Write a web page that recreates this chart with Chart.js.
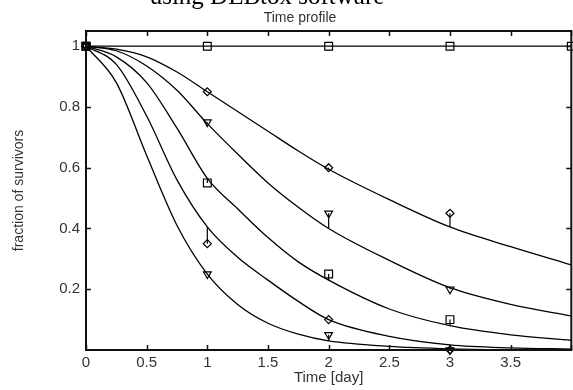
<!DOCTYPE html>
<html>
<head>
<meta charset="utf-8">
<script src="https://cdn.jsdelivr.net/npm/chart.js@4.4.0/dist/chart.umd.min.js"></script>
<style>
  html, body { margin: 0; padding: 0; background: #fff; overflow: hidden; }
  #wrap { position: relative; width: 578px; height: 390px; }
</style>
</head>
<body>
<div id="wrap"><canvas id="myChart"></canvas></div>
<script>
// axis ticks
const dayTicks = [0, 0.5, 1, 1.5, 2, 2.5, 3, 3.5];
const fractionTicks = [0.2, 0.4, 0.6, 0.8, 1];

// model fits
const fitDays = [0, 0.25, 0.5, 0.75, 1, 1.25, 1.5, 1.75, 2, 2.5, 3, 3.5, 4];
const fitControl = [1, 1, 1, 1, 1, 1, 1, 1, 1, 1, 1, 1, 1];
const fitA = [1, 0.99, 0.965, 0.915, 0.85, 0.785, 0.72, 0.655, 0.595, 0.495, 0.405, 0.34, 0.28];
const fitB = [1, 0.985, 0.935, 0.855, 0.745, 0.645, 0.55, 0.47, 0.4, 0.295, 0.205, 0.15, 0.112];
const fitC = [1, 0.965, 0.88, 0.73, 0.565, 0.465, 0.37, 0.29, 0.23, 0.135, 0.08, 0.05, 0.032];
const fitD = [1, 0.94, 0.77, 0.56, 0.405, 0.305, 0.23, 0.16, 0.1, 0.045, 0.017, 0.007, 0.003];
const fitE = [1, 0.88, 0.64, 0.41, 0.25, 0.15, 0.088, 0.052, 0.03, 0.012, 0.004, 0.001, 0];

// observations
const obsDays = [0, 1, 2, 3];
const controlDays = [0, 1, 2, 3, 4];
const obsControl = [1, 1, 1, 1, 1];
const obsA = [1, 0.85, 0.6, 0.45];
const obsB = [1, 0.75, 0.45, 0.2];
const obsC = [1, 0.55, 0.25, 0.1];
const obsD = [1, 0.35, 0.1, 0];
const obsE = [1, 0.25, 0.05, 0];

const toPoints = (xs, ys) => xs.map((x, i) => ({ x: x, y: ys[i] }));

const fits = [fitControl, fitA, fitB, fitC, fitD, fitE];
const observations = [
  { days: controlDays, values: obsControl, fit: fitControl, style: "rect", radius: 5.5, rotation: 0 },
  { days: obsDays, values: obsA, fit: fitA, style: "rectRot", radius: 4, rotation: 0 },
  { days: obsDays, values: obsB, fit: fitB, style: "triangle", radius: 4.5, rotation: 180 },
  { days: obsDays, values: obsC, fit: fitC, style: "rect", radius: 5.5, rotation: 0 },
  { days: obsDays, values: obsD, fit: fitD, style: "rectRot", radius: 4, rotation: 0 },
  { days: obsDays, values: obsE, fit: fitE, style: "triangle", radius: 4.5, rotation: 180 },
];

const datasets = [];
fits.forEach((fit) => {
  datasets.push({
    data: toPoints(fitDays, fit),
    borderColor: "#000",
    borderWidth: 1.3,
    pointRadius: 0,
    cubicInterpolationMode: "monotone",
    fill: false,
  });
});
observations.forEach((obs) => {
  datasets.push({
    data: toPoints(obs.days, obs.values),
    showLine: false,
    pointStyle: obs.style,
    pointRadius: obs.radius,
    pointRotation: obs.rotation,
    pointBorderColor: "#000",
    pointBorderWidth: 1.2,
    pointBackgroundColor: "rgba(0,0,0,0)",
    clip: false,
  });
});

// box, inward ticks, error bars and titles
const frame = {
  id: "frame",
  afterDatasetsDraw(chart) {
    const { ctx, chartArea: a, scales } = chart;
    const xs = scales.x, ys = scales.y;
    ctx.save();
    ctx.strokeStyle = "#000";
    ctx.lineWidth = 1.2;
    observations.forEach((obs) => {
      obs.days.forEach((d, i) => {
        const k = fitDays.indexOf(d);
        if (k < 0) return;
        const px = xs.getPixelForValue(d);
        ctx.beginPath();
        ctx.moveTo(px, ys.getPixelForValue(obs.values[i]));
        ctx.lineTo(px, ys.getPixelForValue(obs.fit[k]));
        ctx.stroke();
      });
    });
    ctx.strokeStyle = "#111";
    ctx.lineWidth = 2;
    ctx.strokeRect(a.left, a.top, a.right - a.left, a.bottom - a.top);
    ctx.lineWidth = 1.5;
    ctx.beginPath();
    dayTicks.concat([4]).forEach((d) => {
      const px = Math.round(xs.getPixelForValue(d)) + 0.5;
      ctx.moveTo(px, a.bottom); ctx.lineTo(px, a.bottom - 5);
      ctx.moveTo(px, a.top); ctx.lineTo(px, a.top + 5);
    });
    fractionTicks.forEach((v) => {
      const py = Math.round(ys.getPixelForValue(v)) + 0.5;
      ctx.moveTo(a.left, py); ctx.lineTo(a.left + 5, py);
      ctx.moveTo(a.right, py); ctx.lineTo(a.right - 5, py);
    });
    ctx.stroke();

    ctx.fillStyle = "#333";
    ctx.textAlign = "center";
    ctx.textBaseline = "middle";
    ctx.font = "14px 'Liberation Sans', Arial, sans-serif";
    ctx.fillText("Time profile", 300, 18);
    ctx.fillStyle = "#000";
    ctx.textBaseline = "alphabetic";
    ctx.font = "25px 'Liberation Serif', 'Times New Roman', serif";
    ctx.fillText("using DEBtox software", 267, 4);
    ctx.restore();
  },
};

const myChart = new Chart(document.getElementById("myChart"), {
  type: "line",
  data: { datasets: datasets },
  options: {
    responsive: true,
    maintainAspectRatio: false,
    animation: false,
    layout: { padding: { left: 11, top: 31, right: 4, bottom: 0 } },
    plugins: {
      legend: { display: false },
      tooltip: { enabled: false },
    },
    scales: {
      x: {
        type: "linear",
        min: 0,
        max: 4,
        afterFit: (scale) => { scale.height = 40; },
        afterBuildTicks: (scale) => { scale.ticks = dayTicks.map((v) => ({ value: v })); },
        grid: { display: false, drawTicks: false },
        border: { display: false },
        ticks: {
          color: "#333",
          padding: 4,
          maxRotation: 0,
          callback: (v) => String(v),
          font: { family: "'Liberation Sans', Arial, sans-serif", size: 15 },
        },
        title: {
          display: true,
          text: "Time [day]",
          color: "#333",
          padding: { top: 0, bottom: 3 },
          font: { family: "'Liberation Sans', Arial, sans-serif", size: 15 },
        },
      },
      y: {
        type: "linear",
        min: 0,
        max: 1.05,
        afterFit: (scale) => { scale.width = 75; },
        afterBuildTicks: (scale) => { scale.ticks = fractionTicks.map((v) => ({ value: v })); },
        grid: { display: false, drawTicks: false },
        border: { display: false },
        ticks: {
          color: "#333",
          padding: 6,
          callback: (v) => String(v),
          font: { family: "'Liberation Sans', Arial, sans-serif", size: 15 },
        },
        title: {
          display: true,
          text: "fraction of survivors",
          color: "#333",
          padding: 0,
          font: { family: "'Liberation Sans', Arial, sans-serif", size: 14 },
        },
      },
    },
  },
  plugins: [frame],
});
</script>
</body>
</html>
